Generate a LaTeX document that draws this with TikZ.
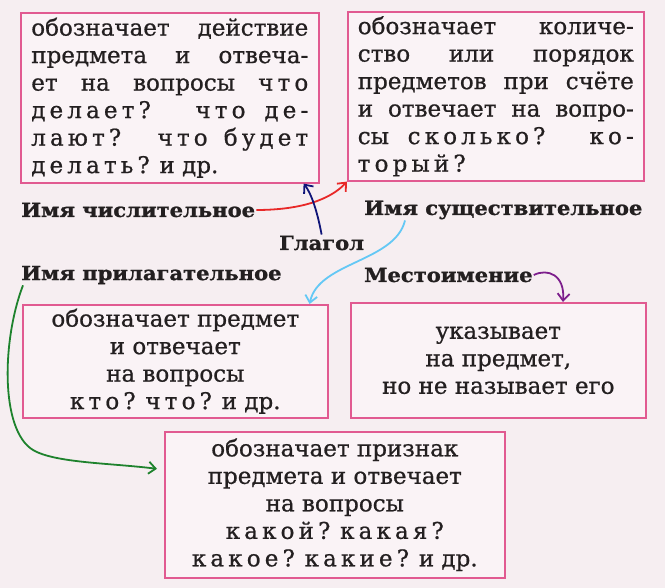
\documentclass[tikz,border=0pt]{standalone}
\usepackage{fontspec}
\setmainfont[FakeBold=0.8]{DejaVu Serif}
\newfontfamily\spacedfont[LetterSpace=18,FakeBold=0.8]{DejaVu Serif}
\newfontfamily\labelfont[FakeStretch=1.08,FakeBold=1.2]{DejaVu Serif Bold}
\newcommand\razr[1]{{\spacedfont #1}}
\usetikzlibrary{arrows.meta}

\definecolor{paper}{RGB}{246,238,241}
\definecolor{cardpink}{RGB}{225,90,145}
\definecolor{cardfill}{RGB}{250,243,246}
\definecolor{ink}{RGB}{35,31,32}
\definecolor{penred}{RGB}{232,40,40}
\definecolor{pennavy}{RGB}{15,20,120}
\definecolor{pensky}{RGB}{100,200,245}
\definecolor{penviolet}{RGB}{125,30,140}
\definecolor{pengreen}{RGB}{30,130,45}

\tikzset{
  card/.style={draw=cardpink, line width=1.6pt, fill=cardfill, text=ink,
    inner sep=0pt, anchor=north west,
    font=\fontsize{23}{27.5}\selectfont},
  lbl/.style={text=ink, inner sep=1pt, anchor=west,
    font=\labelfont\fontsize{19.5}{20}\selectfont},
  pen/.style={line width=1.8pt, ->}
}

\begin{document}
\begin{tikzpicture}[x=1pt, y=-1pt, >={Straight Barb[length=7pt,width=12pt]}]

  % Page
  \fill[paper] (0,0) rectangle (665,588);
  \useasboundingbox (0,0) rectangle (665,588);

  % Definitions
  \node[card, minimum width=298pt, minimum height=170pt, align=left] (verbdef) at (20,12)
    {\makebox[277pt][s]{обозначает действие}\\
     \makebox[277pt][s]{предмета и отвеча-}\\
     \makebox[277pt][s]{ет на вопросы \razr{что}}\\
     \makebox[277pt][s]{\razr{делает?} \razr{что} \razr{де-}}\\
     \makebox[277pt][s]{\razr{лают?} \razr{что} \razr{будет}}\\
     \razr{делать?} и др.};
  \node[card, minimum width=296pt, minimum height=169pt, align=left] (numdef) at (347,11)
    {\makebox[276pt][s]{обозначает количе-}\\
     \makebox[276pt][s]{ство или порядок}\\
     \makebox[276pt][s]{предметов при счёте}\\
     \makebox[276pt][s]{и отвечает на вопро-}\\
     \makebox[276pt][s]{сы \razr{сколько?} \razr{ко-}}\\
     \razr{торый?}};
  \node[card, minimum width=305pt, minimum height=113pt, align=center] (noundef) at (22,304)
    {обозначает предмет\\ и отвечает\\ на вопросы\\ \razr{кто?} \razr{что?} и др.};
  \node[card, minimum width=295pt, minimum height=115pt, align=center] (prondef) at (350,302)
    {указывает\\ на предмет,\\ но не называет его};
  \node[card, minimum width=340pt, minimum height=146pt, align=center] (adjdef) at (164,431)
    {обозначает признак\\ предмета и отвечает\\ на вопросы\\
     \razr{какой?} \razr{какая?}\\ \razr{какое?} \razr{какие?} и др.};

  % Parts of speech
  \node[lbl] (num) at (20,210) {Имя числительное};
  \node[lbl] (noun) at (363,210) {Имя существительное};
  \node[lbl] (verb) at (278,243) {Глагол};
  \node[lbl] (adj) at (20,275) {Имя прилагательное};
  \node[lbl] (pron) at (363,275) {Местоимение};

  % Hand-drawn arrows
  \draw[pen, penred] (num.east) .. controls (300,210) and (330,200) .. (numdef.south west);
  \draw[pen, pennavy] (verb.north) .. controls (317,210) and (311,193) .. ([xshift=-16pt]verbdef.south east);
  \draw[pen, pensky] ([xshift=42pt]noun.south west) .. controls (395,262) and (318,262) .. ([xshift=-19pt]noundef.north east);
  \draw[pen, penviolet] (pron.east) .. controls (548,268) and (565,275) .. ([xshift=213pt]prondef.north west);
  \draw[pen, pengreen] ([xshift=3pt]adj.south west) .. controls (2,340) and (0,430) .. (33,450)
    .. controls (55,463) and (110,463) .. ([shift={(-7pt,36pt)}]adjdef.west);

\end{tikzpicture}
\end{document}
